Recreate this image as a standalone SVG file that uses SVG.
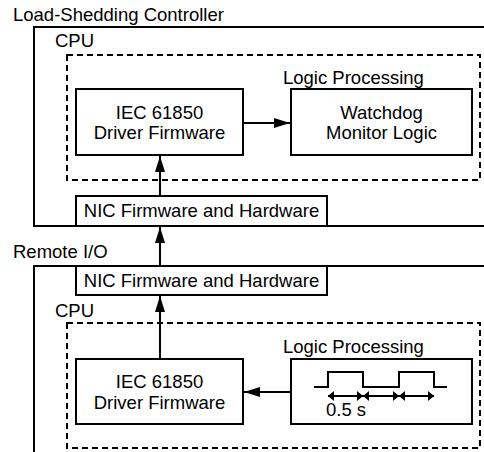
<svg xmlns="http://www.w3.org/2000/svg" width="484" height="452" viewBox="0 0 484 452">
  <defs>
    <style>
      text { font-family: "Liberation Sans", Arial, sans-serif; font-size: 18.5px; fill: #000; }
      .mid { text-anchor: middle; }
      .box { fill: #fff; stroke: #000; stroke-width: 2; }
      .frame { fill: none; stroke: #000; stroke-width: 2; }
      .dash { fill: none; stroke: #000; stroke-width: 2; stroke-dasharray: 6 4; }
      .wire { fill: none; stroke: #000; stroke-width: 2; }
      .wave { fill: none; stroke: #000; stroke-width: 2; }
      .span { fill: none; stroke: #000; stroke-width: 1.8; }
    </style>
    <marker id="head" viewBox="0 0 16 10" refX="16" refY="5" markerWidth="16" markerHeight="10" markerUnits="userSpaceOnUse" orient="auto">
      <path d="M0,0 L16,5 L0,10 Z" fill="#000"/>
    </marker>
    <marker id="tick" viewBox="0 0 6 10" refX="6" refY="5" markerWidth="6" markerHeight="10" markerUnits="userSpaceOnUse" orient="auto-start-reverse">
      <path d="M0,0 L6,5 L0,10 Z" fill="#000"/>
    </marker>
  </defs>

  <!-- Load-Shedding Controller -->
  <g id="controller">
    <text x="13" y="21">Load-Shedding Controller</text>
    <rect class="frame" x="34" y="27" width="460" height="199"/>
    <text x="55" y="47">CPU</text>
    <rect class="dash" x="67" y="55" width="413" height="125"/>
    <text x="283" y="84">Logic Processing</text>
  </g>
  <g id="ctrl-driver">
    <rect class="box" x="76" y="89" width="167" height="66"/>
    <text class="mid" x="159.5" y="118.5">IEC 61850</text>
    <text class="mid" x="159.5" y="139">Driver Firmware</text>
  </g>
  <g id="ctrl-watchdog">
    <rect class="box" x="291" y="89" width="181" height="66"/>
    <text class="mid" x="381.5" y="118.5">Watchdog</text>
    <text class="mid" x="381.5" y="139">Monitor Logic</text>
  </g>
  <g id="ctrl-nic">
    <rect class="box" x="76" y="196" width="251" height="30"/>
    <text class="mid" x="201.5" y="217">NIC Firmware and Hardware</text>
  </g>

  <!-- Remote I/O -->
  <g id="remote-io">
    <text x="13" y="258">Remote I/O</text>
    <rect class="frame" x="34" y="266" width="460" height="200"/>
    <text x="55" y="317">CPU</text>
    <rect class="dash" x="67" y="323" width="413" height="125"/>
    <text x="283" y="353">Logic Processing</text>
  </g>
  <g id="rio-nic">
    <rect class="box" x="76" y="266" width="251" height="29"/>
    <text class="mid" x="201.5" y="286.5">NIC Firmware and Hardware</text>
  </g>
  <g id="rio-driver">
    <rect class="box" x="76" y="359" width="167" height="65"/>
    <text class="mid" x="159.5" y="388">IEC 61850</text>
    <text class="mid" x="159.5" y="408.5">Driver Firmware</text>
  </g>
  <g id="rio-heartbeat">
    <rect class="box" x="291" y="359" width="181" height="65"/>
    <path class="wave" d="M314,387 H328 V372 H363 V387 H399 V372 H434 V387 H447"/>
    <line class="span" x1="328" y1="396" x2="363" y2="396" marker-start="url(#tick)" marker-end="url(#tick)"/>
    <line class="span" x1="363" y1="396" x2="399" y2="396" marker-start="url(#tick)" marker-end="url(#tick)"/>
    <line class="span" x1="399" y1="396" x2="434" y2="396" marker-start="url(#tick)" marker-end="url(#tick)"/>
    <text x="326" y="416">0.5 s</text>
  </g>

  <!-- Connectors -->
  <g id="connectors">
    <line class="wire" x1="243" y1="123" x2="290" y2="123" marker-end="url(#head)"/>
    <line class="wire" x1="160" y1="196" x2="160" y2="156" marker-end="url(#head)"/>
    <line class="wire" x1="160" y1="265" x2="160" y2="227" marker-end="url(#head)"/>
    <line class="wire" x1="160" y1="358" x2="160" y2="296" marker-end="url(#head)"/>
    <line class="wire" x1="291" y1="392" x2="244" y2="392" marker-end="url(#head)"/>
  </g>
</svg>
